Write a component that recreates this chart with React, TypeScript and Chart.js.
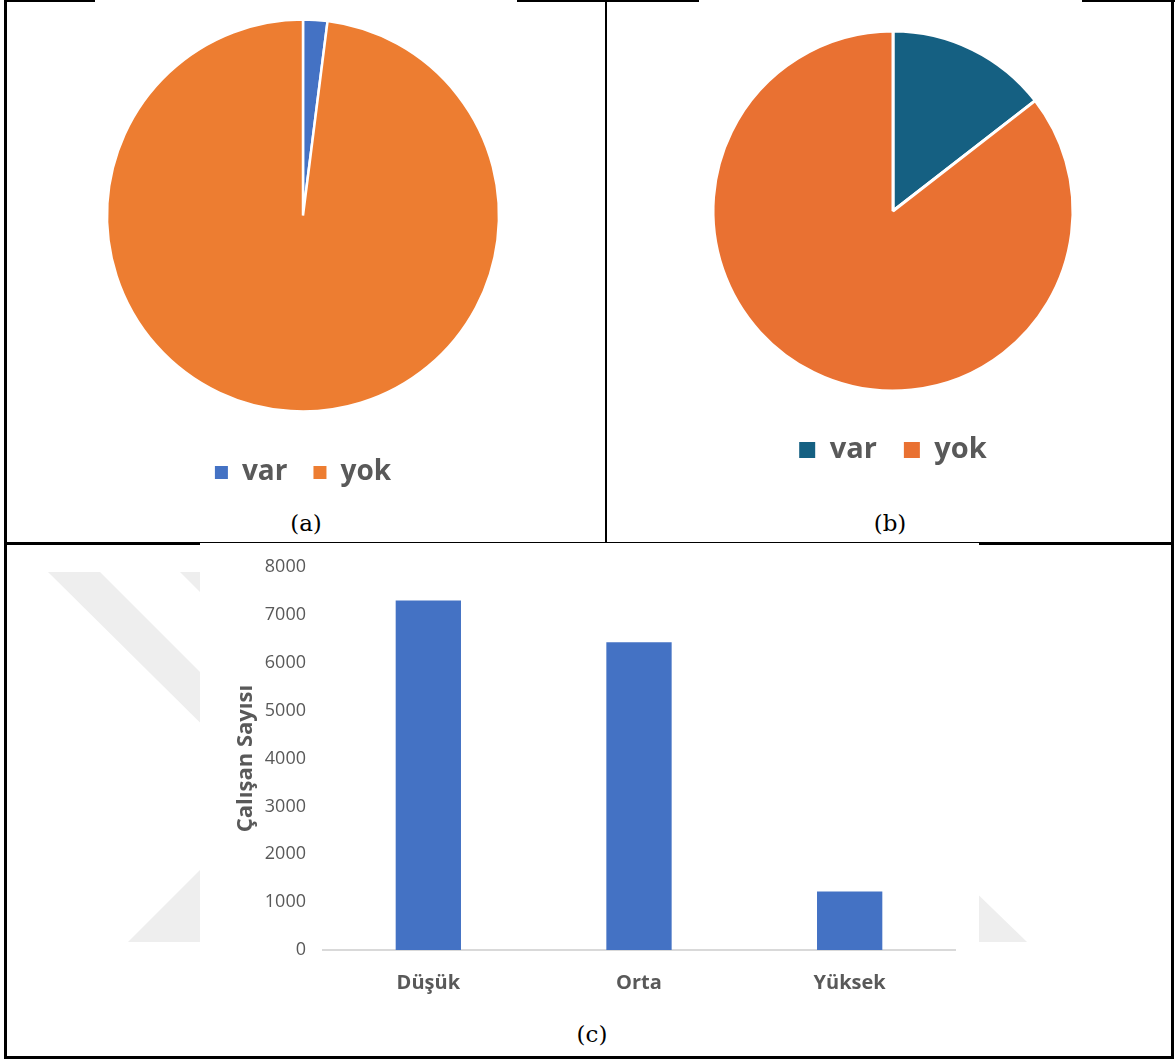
import React, { useEffect, useRef } from "react";
import { Chart, registerables } from "chart.js";

Chart.register(...registerables);

// Pie data: presence ("var") vs absence ("yok")
const pieLabels = ["var", "yok"];
const pieAValues = [2, 98];
const pieBValues = [14.5, 85.5];
const pieAColors = ["#4472C4", "#ED7D31"];
const pieBColors = ["#156082", "#E97132"];

// Bar data: employee counts per level
const barCategories = ["Düşük", "Orta", "Yüksek"];
const barValues = [7300, 6430, 1220];
const yAxisTitle = "Çalışan Sayısı";
const yMin = 0;
const yMax = 8000;
const yStep = 1000;

const captions = ["(a)", "(b)", "(c)"];

const GRAY_TEXT = "#595959";
const SANS = "'Open Sans', 'Noto Sans', sans-serif";

type PieProps = {
  values: number[];
  colors: string[];
  left: number;
  top: number;
  width: number;
  height: number;
  radius: number;
  fontSize: number;
  boxSize: number;
  itemGap: number;
  padTop: number;
  padBottom: number;
  border: number;
};

function PieChart(p: PieProps) {
  const ref = useRef<HTMLCanvasElement | null>(null);
  useEffect(() => {
    if (!ref.current) return;
    const chart = new Chart(ref.current, {
      type: "pie",
      data: {
        labels: pieLabels,
        datasets: [
          {
            data: p.values,
            backgroundColor: p.colors,
            borderColor: "#ffffff",
            borderWidth: p.border,
            radius: p.radius,
          } as any,
        ],
      },
      options: {
        responsive: false,
        animation: false,
        layout: { padding: { top: p.padTop, bottom: p.padBottom, left: 0, right: 0 } },
        plugins: {
          tooltip: { enabled: false },
          legend: {
            position: "bottom",
            labels: {
              color: GRAY_TEXT,
              font: { family: SANS, size: p.fontSize, weight: "bold" },
              boxWidth: p.boxSize,
              boxHeight: p.boxSize,
              padding: p.itemGap,
              generateLabels: () =>
                pieLabels.map((t, i) => ({
                  text: t,
                  fillStyle: p.colors[i],
                  strokeStyle: p.colors[i],
                  lineWidth: 0,
                  hidden: false,
                  index: i,
                  fontColor: GRAY_TEXT,
                })),
            },
          },
        },
      },
    });
    return () => chart.destroy();
  }, []);
  return (
    <canvas
      ref={ref}
      width={p.width}
      height={p.height}
      style={{ position: "absolute", left: p.left, top: p.top, width: p.width, height: p.height }}
    />
  );
}

function BarChart() {
  const ref = useRef<HTMLCanvasElement | null>(null);
  useEffect(() => {
    if (!ref.current) return;
    const chart = new Chart(ref.current, {
      type: "bar",
      data: {
        labels: barCategories,
        datasets: [
          {
            data: barValues,
            backgroundColor: "#4472C4",
            borderWidth: 0,
            categoryPercentage: 1,
            barPercentage: 0.31,
          },
        ],
      },
      options: {
        responsive: false,
        animation: false,
        layout: { padding: { top: 24, right: 24, left: 0, bottom: 0 } },
        plugins: { legend: { display: false }, tooltip: { enabled: false } },
        scales: {
          x: {
            grid: { display: false },
            border: { display: true, color: "#D9D9D9", width: 2 },
            ticks: {
              color: GRAY_TEXT,
              font: { family: SANS, size: 20, weight: "bold" },
              padding: 13,
            },
            afterFit: (s: any) => {
              s.height = 63;
            },
          },
          y: {
            min: yMin,
            max: yMax,
            grid: { display: false },
            border: { display: false },
            ticks: {
              stepSize: yStep,
              color: GRAY_TEXT,
              font: { family: SANS, size: 18 },
              padding: 9,
              callback: (v: any) => String(v),
            },
            title: {
              display: true,
              text: yAxisTitle,
              color: GRAY_TEXT,
              font: { family: SANS, size: 22, weight: "bold" },
              padding: { top: 33, bottom: 0 },
            },
            afterFit: (s: any) => {
              s.width = 123;
            },
          },
        },
      },
    });
    return () => chart.destroy();
  }, []);
  return (
    <canvas
      ref={ref}
      width={779}
      height={470}
      style={{ position: "absolute", left: 200, top: 543, width: 779, height: 470, background: "#ffffff" }}
    />
  );
}

function Line({ x, y, w, h }: { x: number; y: number; w: number; h: number }) {
  return <div style={{ position: "absolute", left: x, top: y, width: w, height: h, background: "#000" }} />;
}

function Caption({ text, cx, cy }: { text: string; cx: number; cy: number }) {
  return (
    <div
      style={{
        position: "absolute",
        left: cx - 50,
        top: cy - 16,
        width: 100,
        height: 32,
        lineHeight: "32px",
        textAlign: "center",
        fontFamily: "'DejaVu Serif', serif",
        fontSize: 23,
        color: "#000",
      }}
    >
      {text}
    </div>
  );
}

export default function App() {
  return (
    <div
      style={{
        position: "absolute",
        left: 0,
        top: 0,
        width: 1176,
        height: 1061,
        background: "#ffffff",
        overflow: "hidden",
      }}
    >
      {/* faint background emblem behind the lower panel */}
      <svg width={1176} height={1061} style={{ position: "absolute", left: 0, top: 0 }}>
        <g fill="#EEEEEE">
          <polygon points="48,572 100,572 260,732 260,782" />
          <polygon points="180,572 232,572 260,600 260,652" />
          <polygon points="128,942 220,850 220,942" />
          <polygon points="960,877 1027,942 960,942" />
        </g>
      </svg>

      {/* table frame */}
      <Line x={4} y={0} w={91} h={2} />
      <Line x={517} y={0} w={182} h={2} />
      <Line x={1082} y={0} w={93} h={2} />
      <Line x={4} y={0} w={3} h={1059} />
      <Line x={1171} y={0} w={3} h={1059} />
      <Line x={605} y={0} w={2} h={543} />
      <Line x={4} y={542} w={196} h={3} />
      <Line x={979} y={542} w={195} h={3} />
      <Line x={200} y={542} w={779} h={2} />
      <Line x={4} y={1056} w={1170} h={3} />

      <PieChart
        values={pieAValues}
        colors={pieAColors}
        left={92}
        top={-7}
        width={422}
        height={510}
        radius={196}
        fontSize={28}
        boxSize={13}
        itemGap={26}
        padTop={5.5}
        padBottom={6.5}
        border={2.5}
      />
      <PieChart
        values={pieBValues}
        colors={pieBColors}
        left={701}
        top={0}
        width={384}
        height={480}
        radius={180}
        fontSize={29}
        boxSize={16}
        itemGap={27}
        padTop={13.5}
        padBottom={5.5}
        border={3}
      />
      <BarChart />

      <Caption text={captions[0]} cx={306} cy={523} />
      <Caption text={captions[1]} cx={890} cy={523} />
      <Caption text={captions[2]} cx={592} cy={1034} />
    </div>
  );
}
